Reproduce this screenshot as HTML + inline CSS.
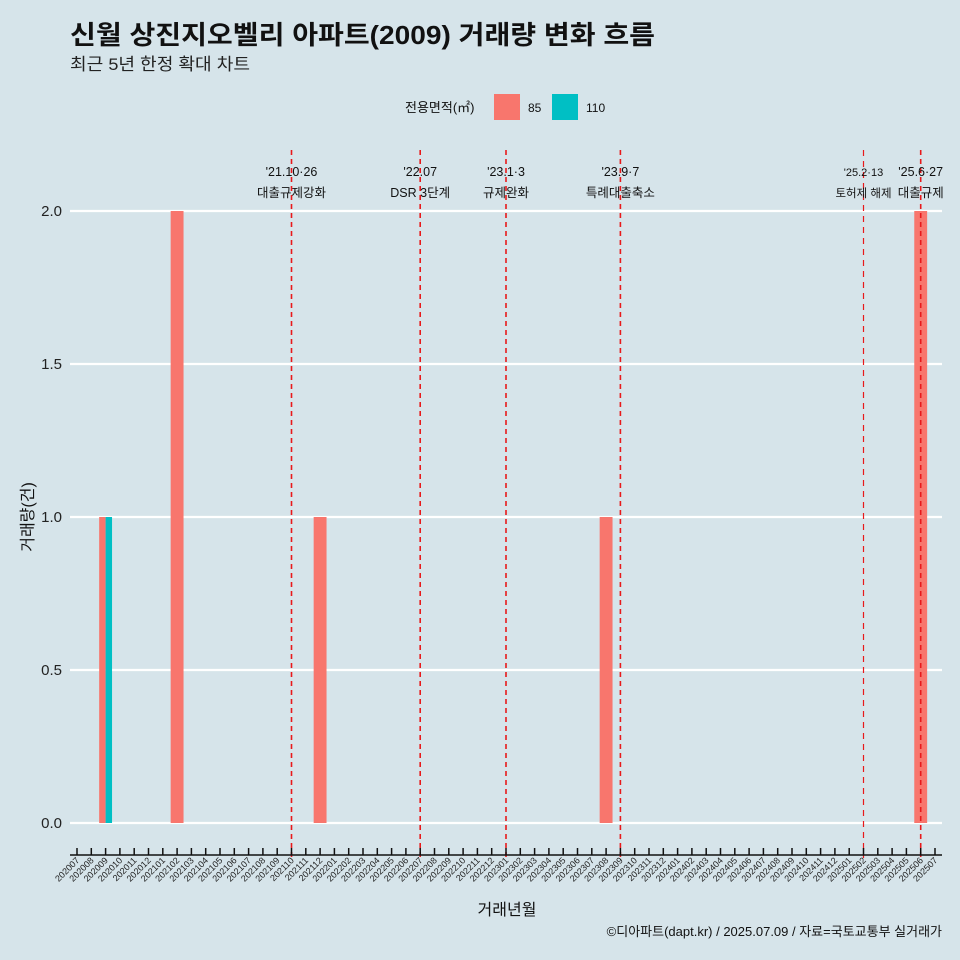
<!DOCTYPE html>
<html><head><meta charset="utf-8"><style>
body{margin:0;background:#d6e4ea;}
svg{display:block;font-family:"Liberation Sans","Noto Sans CJK KR",sans-serif;}
</style></head><body>
<svg id="c" width="960" height="960">
<rect width="960" height="960" fill="#d6e4ea"/>
<text x="70" y="44" font-size="26" font-weight="bold" fill="#111" textLength="585" lengthAdjust="spacingAndGlyphs">신월 상진지오벨리 아파트(2009) 거래량 변화 흐름</text>
<text x="70" y="70" font-size="17" fill="#222" textLength="180" lengthAdjust="spacingAndGlyphs">최근 5년 한정 확대 차트</text>
<g>
<text x="405" y="112" font-size="13" fill="#111">전용면적(㎡)</text>
<rect x="494" y="94" width="26" height="26" fill="#f8766d"/>
<text x="528" y="112" font-size="12" fill="#111">85</text>
<rect x="552" y="94" width="26" height="26" fill="#00bfc4"/>
<text x="586" y="112" font-size="12" fill="#111">110</text>
</g>
<g id="grid"></g><g id="bars"></g><g id="events"></g><g id="xaxis"></g>
<text x="0" y="0" transform="translate(33,517) rotate(-90)" text-anchor="middle" font-size="16" fill="#111">거래량(건)</text>
<text x="507" y="915" text-anchor="middle" font-size="16" fill="#111">거래년월</text>
<text x="942" y="936" text-anchor="end" font-size="13" fill="#111">©디아파트(dapt.kr) / 2025.07.09 / 자료=국토교통부 실거래가</text>
</svg>
<script>
const months=[];for(let y=2020;y<=2025;y++)for(let m=1;m<=12;m++){const k=y*100+m;if(k>=202007&&k<=202507)months.push(String(k));}
const barMonths=["202009","202102","202112","202308","202506"];
const s85=[1,2,1,1,2];
const s110=[1,0,0,0,0];
const yTicks=[0,0.5,1,1.5,2];
const yTickLabels=["0.0","0.5","1.0","1.5","2.0"];
const eventMonths=["202110","202207","202301","202309","202502","202506"];
const eventDates=["'21.10·26","'22.07","'23.1·3","'23.9·7","'25.2·13","'25.6·27"];
const eventNames=["대출규제강화","DSR 3단계","규제완화","특례대출축소","토허제 해제","대출규제"];
const NS="http://www.w3.org/2000/svg";
const x=i=>77+i*(935-77)/(months.length-1);
const y=v=>823-v*306;
const step=(935-77)/(months.length-1),bw=step*0.9;
function mk(p,t,a){const e=document.createElementNS(NS,t);for(const k in a)e.setAttribute(k,a[k]);document.getElementById(p).appendChild(e);return e;}
yTicks.forEach((v,i)=>{
 const l=mk('grid','line',{x1:70,x2:942,y1:y(v),y2:y(v),stroke:'#fff','stroke-width':2.2});
 
 
 const t=mk('grid','text',{x:62,y:y(v)+5,'text-anchor':'end','font-size':15,fill:'#222'});
 t.textContent=yTickLabels[i];
 
 
});
barMonths.forEach((m,j)=>{
 const cx=x(months.indexOf(m));
 const both=s85[j]>0&&s110[j]>0;
 if(s85[j]>0){const w=both?bw/2:bw;const r=mk('bars','rect',{x:cx-bw/2,y:y(s85[j]),width:w,height:y(0)-y(s85[j]),fill:'#f8766d'});
  
  }
 if(s110[j]>0){const w=both?bw/2:bw;const r=mk('bars','rect',{x:both?cx:cx-bw/2,y:y(s110[j]),width:w,height:y(0)-y(s110[j]),fill:'#00bfc4'});
  
  }
});
eventMonths.forEach((m,i)=>{
 const ex=x(months.indexOf(m));
 const thin=m==="202502";
 const l=mk('events','line',{x1:ex,x2:ex,y1:150,y2:858,stroke:'#e8191b','stroke-width':thin?1.2:1.6,'stroke-dasharray':thin?'6,5':'5,4'});
 
 
 const t1=mk('events','text',{x:ex,y:176,'text-anchor':'middle','font-size':thin?11:12.5,fill:'#111'});
 t1.textContent=eventDates[i];
 
 
 const t2=mk('events','text',{x:ex,y:197,'text-anchor':'middle','font-size':thin?11.5:12.5,fill:'#111'});
 t2.textContent=eventNames[i];
 
 
});
const ax=mk('xaxis','line',{x1:70,x2:942,y1:855,y2:855,stroke:'#111','stroke-width':1.5});


months.forEach((m,i)=>{
 const tk=mk('xaxis','line',{x1:x(i),x2:x(i),y1:848,y2:855,stroke:'#111','stroke-width':1.5});
 
 
 const t=mk('xaxis','text',{x:0,y:0,transform:`translate(${x(i)+3},${861}) rotate(-45)`,'text-anchor':'end','font-size':9,fill:'#222'});
 t.textContent=m;
 
 
});
</script>
</body></html>
